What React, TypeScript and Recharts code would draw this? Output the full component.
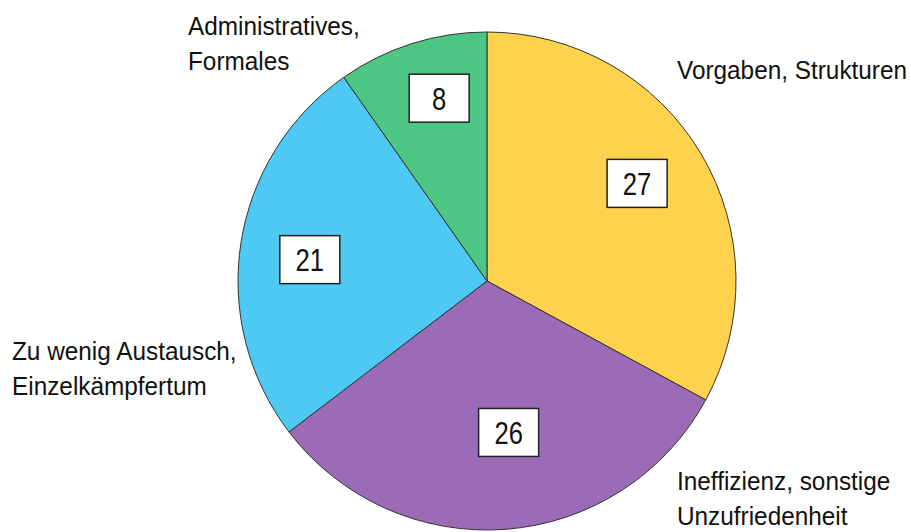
import React from 'react';
import { PieChart, Pie, Cell } from 'recharts';

const categories = [
  'Vorgaben, Strukturen',
  'Ineffizienz, sonstige Unzufriedenheit',
  'Zu wenig Austausch, Einzelkämpfertum',
  'Administratives, Formales',
];
const values = [27, 26, 21, 8];
const labelLines = [
  ['Vorgaben, Strukturen'],
  ['Ineffizienz, sonstige', 'Unzufriedenheit'],
  ['Zu wenig Austausch,', 'Einzelkämpfertum'],
  ['Administratives,', 'Formales'],
];

const colors = ['#FFD24D', '#9B6BB8', '#4DC9F3', '#4DC683'];
const RADIAN = Math.PI / 180;
const font = '"Liberation Sans", Arial, sans-serif';

// value box: share of the radius plus a small nudge
const boxRadius = [0.72, 0.61, 0.72, 0.77];
const boxNudge = [
  { dx: -4, dy: -6 },
  { dx: 10, dy: 0 },
  { dx: 0, dy: 6 },
  { dx: 10, dy: 0 },
];
// category text anchor, offset from the centre
const textOffset = [
  { dx: 190, dy: -202 },
  { dx: 190, dy: 209 },
  { dx: -475, dy: 79 },
  { dx: -299, dy: -246 },
];

const data = categories.map((name, i) => ({ name, value: values[i] }));

const renderLabel = (props: any) => {
  const { cx, cy, midAngle, outerRadius, index, value } = props;
  const r = outerRadius * boxRadius[index];
  const x = cx + r * Math.cos(-midAngle * RADIAN) + boxNudge[index].dx;
  const y = cy + r * Math.sin(-midAngle * RADIAN) + boxNudge[index].dy;
  const off = textOffset[index];
  const tx = cx + off.dx;
  const ty = cy + off.dy;
  return (
    <g key={`lbl-${index}`}>
      <rect x={x - 30} y={y - 24} width={60} height={48} fill="#fff" stroke="#222" strokeWidth={1.5} />
      <text
        transform={`translate(${x},${y + 11.5}) scale(0.8,1)`}
        textAnchor="middle"
        fontFamily={font}
        fontSize={32}
        fill="#111"
      >
        {value}
      </text>
      <text transform={`translate(${tx},${ty}) scale(0.955,1)`} fontFamily={font} fontSize={25.5} fill="#111">
        {labelLines[index].map((line, j) => (
          <tspan key={j} x={0} dy={j === 0 ? 0 : 35}>
            {line}
          </tspan>
        ))}
      </text>
    </g>
  );
};

const App = () => {
  return (
    <div style={{ position: 'absolute', left: 0, top: 0, background: '#fff' }}>
      <PieChart width={911} height={532} margin={{ top: 0, right: 0, bottom: 0, left: 0 }}>
        <Pie
          data={data}
          dataKey="value"
          nameKey="name"
          cx={487}
          cy={281}
          outerRadius={249}
          startAngle={90}
          endAngle={-270}
          stroke="#333"
          strokeWidth={1}
          label={renderLabel}
          labelLine={false}
          isAnimationActive={false}
        >
          {data.map((d, i) => (
            <Cell key={d.name} fill={colors[i]} />
          ))}
        </Pie>
      </PieChart>
    </div>
  );
};

export default App;
